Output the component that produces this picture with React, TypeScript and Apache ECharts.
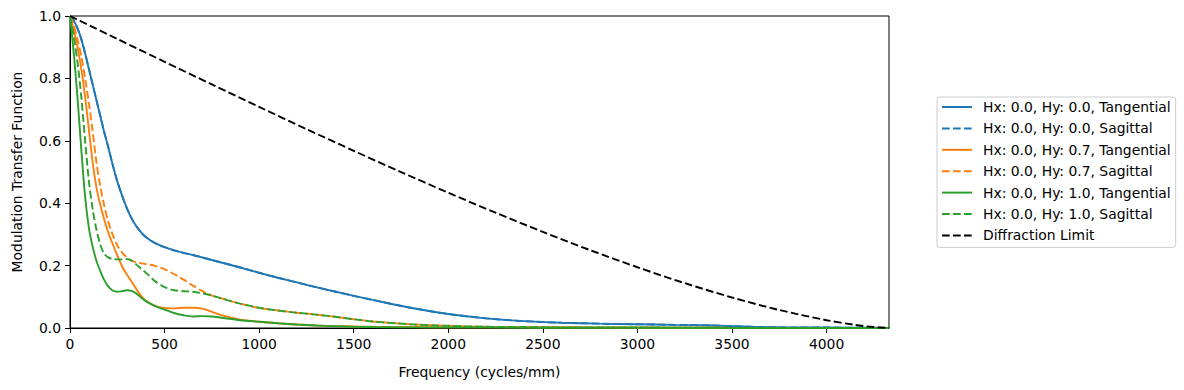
import React, { useEffect, useRef } from "react";
import * as echarts from "echarts";

// Spatial frequency grid (cycles/mm) for the lens MTF curves
const freq = [0, 20, 40, 60, 80, 100, 120, 140, 160, 180, 200, 225, 250, 275, 300, 325, 350, 375, 400, 450, 500, 550, 600, 650, 700, 750, 800, 900, 1000, 1100, 1200, 1300, 1400, 1500, 1600, 1800, 2000, 2200, 2400, 2600, 2800, 3000, 3200, 3400, 3600, 3800, 4000, 4200, 4330];

const hy00Tangential = [1.0, 0.985, 0.96, 0.925, 0.88, 0.83, 0.78, 0.73, 0.68, 0.63, 0.585, 0.525, 0.47, 0.425, 0.385, 0.352, 0.327, 0.307, 0.292, 0.272, 0.259, 0.249, 0.241, 0.234, 0.226, 0.218, 0.21, 0.194, 0.177, 0.161, 0.146, 0.131, 0.117, 0.103, 0.09, 0.065, 0.045, 0.031, 0.022, 0.017, 0.014, 0.012, 0.01, 0.008, 0.004, 0.002, 0.0015, 0.001, 0];
const hy00Sagittal = [1.0, 0.985, 0.96, 0.925, 0.88, 0.83, 0.78, 0.73, 0.68, 0.63, 0.585, 0.525, 0.47, 0.425, 0.385, 0.352, 0.327, 0.307, 0.292, 0.272, 0.259, 0.249, 0.241, 0.234, 0.226, 0.218, 0.21, 0.194, 0.177, 0.161, 0.146, 0.131, 0.117, 0.103, 0.09, 0.065, 0.045, 0.031, 0.022, 0.017, 0.014, 0.012, 0.01, 0.008, 0.004, 0.002, 0.0015, 0.001, 0];
const hy07Tangential = [1.0, 0.955, 0.9, 0.83, 0.74, 0.635, 0.53, 0.45, 0.395, 0.35, 0.31, 0.27, 0.233, 0.198, 0.172, 0.149, 0.126, 0.104, 0.088, 0.071, 0.064, 0.063, 0.065, 0.065, 0.062, 0.052, 0.041, 0.027, 0.02, 0.015, 0.011, 0.008, 0.006, 0.005, 0.004, 0.003, 0.002, 0.002, 0.002, 0.002, 0.002, 0.001, 0.001, 0.001, 0, 0, 0, 0, 0];
const hy07Sagittal = [1.0, 0.97, 0.925, 0.87, 0.8, 0.72, 0.63, 0.53, 0.455, 0.395, 0.345, 0.3, 0.265, 0.242, 0.227, 0.216, 0.211, 0.208, 0.205, 0.199, 0.188, 0.173, 0.155, 0.136, 0.118, 0.104, 0.095, 0.078, 0.064, 0.056, 0.049, 0.043, 0.036, 0.028, 0.021, 0.012, 0.007, 0.004, 0.003, 0.002, 0.002, 0.002, 0.001, 0.001, 0, 0, 0, 0, 0];
const hy10Tangential = [1.0, 0.88, 0.735, 0.57, 0.42, 0.32, 0.26, 0.215, 0.183, 0.155, 0.135, 0.12, 0.116, 0.118, 0.121, 0.119, 0.111, 0.098, 0.086, 0.07, 0.059, 0.048, 0.041, 0.037, 0.038, 0.037, 0.033, 0.025, 0.02, 0.015, 0.011, 0.008, 0.006, 0.004, 0.003, 0.002, 0.002, 0.002, 0.001, 0.001, 0.001, 0.001, 0.001, 0.001, 0, 0, 0, 0, 0];
const hy10Sagittal = [1.0, 0.935, 0.85, 0.74, 0.6, 0.47, 0.38, 0.315, 0.268, 0.238, 0.227, 0.221, 0.22, 0.22, 0.221, 0.216, 0.204, 0.19, 0.178, 0.15, 0.131, 0.121, 0.118, 0.116, 0.111, 0.104, 0.095, 0.078, 0.065, 0.056, 0.049, 0.043, 0.036, 0.028, 0.021, 0.012, 0.007, 0.004, 0.003, 0.002, 0.002, 0.002, 0.001, 0.001, 0, 0, 0, 0, 0];

// Diffraction limit curve
const diffFreq = [0, 250, 500, 750, 1000, 1250, 1500, 1750, 2000, 2250, 2500, 2750, 3000, 3250, 3500, 3750, 4000, 4150, 4250, 4330];
const diffLimit = [1.0, 0.9265, 0.8533, 0.7806, 0.7086, 0.6376, 0.5679, 0.4998, 0.4335, 0.3695, 0.3081, 0.2496, 0.1947, 0.1438, 0.0978, 0.0577, 0.025, 0.0101, 0.003, 0];

const xTicks = [0, 500, 1000, 1500, 2000, 2500, 3000, 3500, 4000];
const xMax = 4330;

const seriesNames = [
  "Hx: 0.0, Hy: 0.0, Tangential",
  "Hx: 0.0, Hy: 0.0, Sagittal",
  "Hx: 0.0, Hy: 0.7, Tangential",
  "Hx: 0.0, Hy: 0.7, Sagittal",
  "Hx: 0.0, Hy: 1.0, Tangential",
  "Hx: 0.0, Hy: 1.0, Sagittal",
  "Diffraction Limit",
];

const FONT = "DejaVu Sans";
const DASH = [7.7, 3.3];

export default function App() {
  const ref = useRef<HTMLDivElement>(null);
  useEffect(() => {
    if (!ref.current) return;
    const chart = echarts.init(ref.current, undefined, { renderer: "svg" });
    const pairs = (xs: number[], ys: number[]) => xs.map((x, i) => [x, ys[i]]);
    const mk = (name: string, data: number[][], color: string, dashed: boolean) => ({
      name,
      type: "line",
      data,
      symbol: "none",
      showSymbol: false,
      silent: true,
      clip: true,
      smooth: 0.3,
      lineStyle: { color, width: 1.9, type: dashed ? DASH : "solid" },
      itemStyle: { color },
      emphasis: { disabled: true },
    });
    chart.setOption({
      animation: false,
      textStyle: { fontFamily: FONT, color: "#000" },
      grid: {
        left: 70,
        right: 295,
        top: 16,
        bottom: 62,
        show: true,
        borderColor: "#000",
        borderWidth: 1,
        backgroundColor: "#fff",
      },
      legend: {
        orient: "vertical",
        left: 937,
        top: 97,
        itemWidth: 30,
        itemHeight: 14,
        itemGap: 7.4,
        padding: [3, 5, 5, 4],
        borderColor: "#cccccc",
        borderWidth: 1,
        borderRadius: 3,
        backgroundColor: "#fff",
        selectedMode: false,
        itemStyle: { opacity: 0, borderWidth: 0 },
        textStyle: { fontFamily: FONT, fontSize: 13.9, color: "#000", padding: [0, 0, 0, 6] },
        data: seriesNames,
      },
      xAxis: {
        type: "value",
        min: 0,
        max: xMax,
        interval: 500,
        name: "Frequency (cycles/mm)",
        nameLocation: "middle",
        nameGap: 37,
        nameTextStyle: { fontFamily: FONT, fontSize: 13.9, color: "#000" },
        axisLine: { show: true, onZero: false, lineStyle: { color: "#000", width: 1 } },
        axisTick: { show: true, length: 5, inside: false, customValues: xTicks, lineStyle: { color: "#000" } },
        axisLabel: {
          fontFamily: FONT,
          fontSize: 13.9,
          color: "#000",
          margin: 9,
          customValues: xTicks,
          formatter: (v: number) => String(Math.round(v)),
        },
        splitLine: { show: false },
      },
      yAxis: {
        type: "value",
        min: 0,
        max: 1,
        interval: 0.2,
        name: "Modulation Transfer Function",
        nameLocation: "middle",
        nameGap: 46,
        nameTextStyle: { fontFamily: FONT, fontSize: 13.9, color: "#000" },
        axisLine: { show: true, lineStyle: { color: "#000", width: 1 } },
        axisTick: { show: true, length: 5, inside: false, lineStyle: { color: "#000" } },
        axisLabel: {
          fontFamily: FONT,
          fontSize: 13.9,
          color: "#000",
          margin: 9,
          formatter: (v: number) => v.toFixed(1),
        },
        splitLine: { show: false },
      },
      series: [
        mk(seriesNames[0], pairs(freq, hy00Tangential), "#1f77b4", false),
        mk(seriesNames[1], pairs(freq, hy00Sagittal), "#1f77b4", true),
        mk(seriesNames[2], pairs(freq, hy07Tangential), "#ff7f0e", false),
        mk(seriesNames[3], pairs(freq, hy07Sagittal), "#ff7f0e", true),
        mk(seriesNames[4], pairs(freq, hy10Tangential), "#2ca02c", false),
        mk(seriesNames[5], pairs(freq, hy10Sagittal), "#2ca02c", true),
        mk(seriesNames[6], pairs(diffFreq, diffLimit), "#000000", true),
      ],
    });
    return () => chart.dispose();
  }, []);
  return (
    <div
      ref={ref}
      style={{ position: "fixed", left: 0, top: 0, width: 1184, height: 390, background: "#fff" }}
    />
  );
}
